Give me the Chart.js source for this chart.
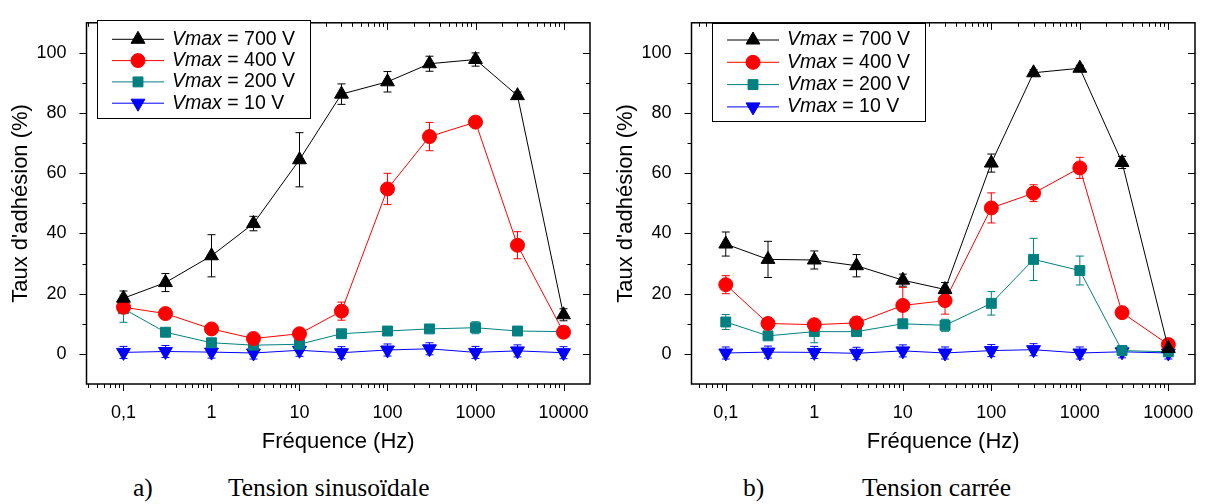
<!DOCTYPE html>
<html>
<head>
<meta charset="utf-8">
<script src="https://cdn.jsdelivr.net/npm/chart.js@4.4.1/dist/chart.umd.min.js"></script>
<style>
body { margin: 0; background: #fff; width: 1205px; height: 504px; position: relative; overflow: hidden; }
.box { position: absolute; top: 0; width: 600px; height: 460px; }
.cap { position: absolute; top: 473px; font-family: "Liberation Serif", "Times New Roman", serif; font-size: 25.5px; line-height: 30px; white-space: nowrap; color: #000; }
</style>
</head>
<body>
<div class="box" style="left:0"><canvas id="chartA" width="600" height="460"></canvas></div>
<div class="box" style="left:605px"><canvas id="chartB" width="600" height="460"></canvas></div>
<div class="cap" style="left:133px">a)</div>
<div class="cap" style="left:228px">Tension sinusoïdale</div>
<div class="cap" style="left:743px">b)</div>
<div class="cap" style="left:862px">Tension carrée</div>
<script>
const freqs = [0.1, 0.3, 1, 3, 10, 30, 100, 300, 1000, 3000, 10000];
const seriesLabels = ['700 V', '400 V', '200 V', '10 V'];
const xTicks = [0.1, 1, 10, 100, 1000, 10000];
const xTickLabels = ['0,1', '1', '10', '100', '1000', '10000'];
const yTicks = [0, 20, 40, 60, 80, 100];

// a) tension sinusoidale
const sin700 = [18.5, 23.7, 32.6, 43.3, 64.5, 86.3, 90.4, 96.4, 97.8, 85.8, 13.0];
const sin700Err = [2.4, 3.0, 7.0, 2.4, 9.0, 3.4, 3.4, 2.5, 2.2, 1.2, 2.0];
const sin400 = [15.5, 13.4, 8.3, 5.1, 6.7, 14.2, 54.8, 72.2, 77.0, 36.1, 7.2];
const sin400Err = [1.2, 1.5, 1.0, 1.0, 1.0, 3.0, 5.2, 4.7, 1.0, 4.5, 1.5];
const sin200 = [15.0, 7.2, 3.7, 2.9, 3.2, 6.7, 7.6, 8.3, 8.7, 7.6, 7.4];
const sin200Err = [4.5, 1.0, 0.8, 0.6, 0.6, 1.0, 1.0, 1.0, 2.0, 0.8, 0.8];
const sin10 = [0.5, 0.8, 0.6, 0.3, 1.2, 0.4, 1.3, 1.7, 0.5, 1.0, 0.4];
const sin10Err = [2.0, 2.0, 2.0, 2.0, 2.0, 2.0, 2.0, 2.0, 2.0, 2.0, 2.0];

// b) tension carree
const sq700 = [36.5, 31.4, 31.2, 29.3, 24.5, 21.4, 63.4, 93.4, 94.9, 63.6, 1.8];
const sq700Err = [4.0, 6.0, 3.0, 3.7, 2.0, 2.3, 3.0, 1.0, 1.0, 2.0, 1.0];
const sq400 = [23.0, 10.1, 9.7, 10.3, 16.1, 17.7, 48.5, 53.4, 61.8, 13.7, 3.1];
const sq400Err = [3.0, 0.6, 1.0, 2.0, 6.0, 4.5, 5.0, 2.8, 3.5, 0.6, 1.0];
const sq200 = [10.6, 6.0, 7.4, 7.4, 10.0, 9.5, 16.8, 31.4, 27.7, 1.1, 0.7];
const sq200Err = [2.5, 1.0, 3.7, 1.5, 1.0, 2.0, 3.9, 7.0, 4.8, 1.0, 0.6];
const sq10 = [0.3, 0.6, 0.5, 0.2, 1.0, 0.3, 1.1, 1.4, 0.3, 0.7, 0.3];
const sq10Err = [2.0, 2.0, 2.0, 2.0, 2.0, 2.0, 2.0, 2.0, 2.0, 2.0, 2.0];

const colors = ['#000000', '#ff0000', '#008080', '#0000ff'];
const styles = [
    { pointStyle: 'triangle', pointRadius: 8, pointRotation: 0 },
    { pointStyle: 'circle', pointRadius: 7, pointRotation: 0 },
    { pointStyle: 'rect', pointRadius: 7, pointRotation: 0 },
    { pointStyle: 'triangle', pointRadius: 8, pointRotation: 180 }
];
const SANS = '"Liberation Sans", Arial, sans-serif';

function makeDatasets(values, errs) {
    return values.map((vals, i) => ({
        label: seriesLabels[i],
        data: freqs.map((f, j) => ({ x: f, y: vals[j] })),
        errors: errs[i],
        borderColor: colors[i],
        backgroundColor: colors[i],
        borderWidth: 1,
        showLine: true,
        tension: 0,
        pointBorderWidth: 1,
        pointHoverRadius: styles[i].pointRadius,
        ...styles[i]
    }));
}

// error bars, drawn under the markers
const errorBars = {
    id: 'errorBars',
    beforeDatasetsDraw(chart) {
        const { ctx, scales: { x, y } } = chart;
        ctx.save();
        ctx.lineWidth = 1;
        chart.data.datasets.forEach((ds) => {
            ctx.strokeStyle = ds.borderColor;
            ds.data.forEach((p, j) => {
                const e = ds.errors[j];
                const px = x.getPixelForValue(p.x);
                const top = y.getPixelForValue(p.y + e);
                const bot = y.getPixelForValue(p.y - e);
                ctx.beginPath();
                ctx.moveTo(px, top); ctx.lineTo(px, bot);
                ctx.moveTo(px - 4, top); ctx.lineTo(px + 4, top);
                ctx.moveTo(px - 4, bot); ctx.lineTo(px + 4, bot);
                ctx.stroke();
            });
        });
        ctx.restore();
    }
};

// frame with Origin-like ticks: outward on bottom/left, inward on top/right
const axisFrame = {
    id: 'axisFrame',
    afterDraw(chart) {
        const { ctx, chartArea: a, scales: { x, y } } = chart;
        ctx.save();
        ctx.strokeStyle = '#000';
        ctx.lineWidth = 1;
        ctx.beginPath();
        const minor = [];
        for (let d = -2; d <= 4; d++) {
            for (let k = 2; k <= 9; k++) {
                const v = k * Math.pow(10, d);
                if (v > x.min && v < x.max) minor.push(v);
            }
        }
        for (const v of xTicks) {
            const px = Math.round(x.getPixelForValue(v)) + 0.5;
            ctx.moveTo(px, a.bottom); ctx.lineTo(px, a.bottom + 7);
            ctx.moveTo(px, a.top); ctx.lineTo(px, a.top + 7);
        }
        for (const v of minor) {
            const px = Math.round(x.getPixelForValue(v)) + 0.5;
            ctx.moveTo(px, a.bottom); ctx.lineTo(px, a.bottom + 4);
            ctx.moveTo(px, a.top); ctx.lineTo(px, a.top + 4);
        }
        for (const v of yTicks) {
            const py = Math.round(y.getPixelForValue(v)) + 0.5;
            ctx.moveTo(a.left, py); ctx.lineTo(a.left - 7, py);
            ctx.moveTo(a.right, py); ctx.lineTo(a.right - 7, py);
        }
        for (const v of [10, 30, 50, 70, 90]) {
            const py = Math.round(y.getPixelForValue(v)) + 0.5;
            ctx.moveTo(a.left, py); ctx.lineTo(a.left - 4, py);
            ctx.moveTo(a.right, py); ctx.lineTo(a.right - 4, py);
        }
        ctx.stroke();
        ctx.lineWidth = 1.5;
        ctx.strokeRect(a.left, a.top, a.right - a.left, a.bottom - a.top);
        ctx.restore();
    }
};

function drawMarker(ctx, ds, cx, cy) {
    const opts = { pointStyle: ds.pointStyle, radius: ds.pointRadius, rotation: ds.pointRotation, borderWidth: 1 };
    Chart.helpers.drawPoint(ctx, opts, cx, cy);
}

const legendBox = {
    id: 'legendBox',
    afterDraw(chart, args, o) {
        const { ctx } = chart;
        ctx.save();
        ctx.fillStyle = '#fff';
        ctx.fillRect(o.left, o.top, o.width, o.height);
        ctx.strokeStyle = '#000';
        ctx.lineWidth = 1;
        ctx.strokeRect(o.left + 0.5, o.top + 0.5, o.width, o.height);
        chart.data.datasets.forEach((ds, i) => {
            const yy = o.top + o.first + i * o.gap;
            ctx.strokeStyle = ds.borderColor;
            ctx.fillStyle = ds.backgroundColor;
            ctx.lineWidth = 1;
            ctx.beginPath();
            ctx.moveTo(o.left + 15, yy); ctx.lineTo(o.left + 67, yy);
            ctx.stroke();
            drawMarker(ctx, ds, o.left + 41, yy);
            ctx.fillStyle = '#000';
            ctx.textBaseline = 'middle';
            ctx.font = 'italic 19.5px ' + SANS;
            ctx.fillText('Vmax', o.left + 75, yy);
            const w = ctx.measureText('Vmax').width;
            ctx.font = '19.5px ' + SANS;
            ctx.fillText(' = ' + ds.label, o.left + 75 + w, yy);
        });
        ctx.restore();
    }
};

function makeChart(id, datasets, xMin, top, legend) {
    return new Chart(document.getElementById(id), {
        type: 'scatter',
        data: { datasets: datasets },
        plugins: [errorBars, axisFrame, legendBox],
        options: {
            responsive: false,
            animation: false,
            devicePixelRatio: 1,
            layout: { padding: { top: top, right: 10, left: 0, bottom: 0 } },
            plugins: {
                legend: { display: false },
                tooltip: { enabled: false },
                legendBox: legend
            },
            scales: {
                x: {
                    type: 'logarithmic',
                    min: xMin,
                    max: 20000,
                    grid: { display: false },
                    border: { display: false },
                    afterBuildTicks: (scale) => { scale.ticks = xTicks.map(v => ({ value: v })); },
                    afterFit: (scale) => { scale.height = 460 - 384; },
                    ticks: {
                        autoSkip: false,
                        maxRotation: 0,
                        padding: 10,
                        color: '#000',
                        font: { family: SANS, size: 18 },
                        callback: (value, index) => xTickLabels[index]
                    },
                    title: {
                        display: true,
                        text: 'Fréquence (Hz)',
                        color: '#000',
                        font: { family: SANS, size: 22 },
                        padding: { top: 0, bottom: 5 }
                    }
                },
                y: {
                    min: -10,
                    max: 110,
                    grid: { display: false },
                    border: { display: false },
                    afterBuildTicks: (scale) => { scale.ticks = yTicks.map(v => ({ value: v })); },
                    afterFit: (scale) => { scale.width = 86.5; },
                    ticks: {
                        padding: 12,
                        color: '#000',
                        font: { family: SANS, size: 18 }
                    },
                    title: {
                        display: true,
                        text: "Taux d'adhésion (%)",
                        color: '#000',
                        font: { family: SANS, size: 22 },
                        padding: { top: 8, bottom: 0 }
                    }
                }
            }
        }
    });
}

makeChart('chartA',
    makeDatasets([sin700, sin400, sin200, sin10], [sin700Err, sin400Err, sin200Err, sin10Err]),
    0.038, 10,
    { left: 97, top: 20, width: 213, height: 98, first: 19.3, gap: 21.3 });

makeChart('chartB',
    makeDatasets([sq700, sq400, sq200, sq10], [sq700Err, sq400Err, sq200Err, sq10Err]),
    0.041, 8,
    { left: 107, top: 23, width: 213, height: 98, first: 17, gap: 22.3 });
</script>
</body>
</html>
